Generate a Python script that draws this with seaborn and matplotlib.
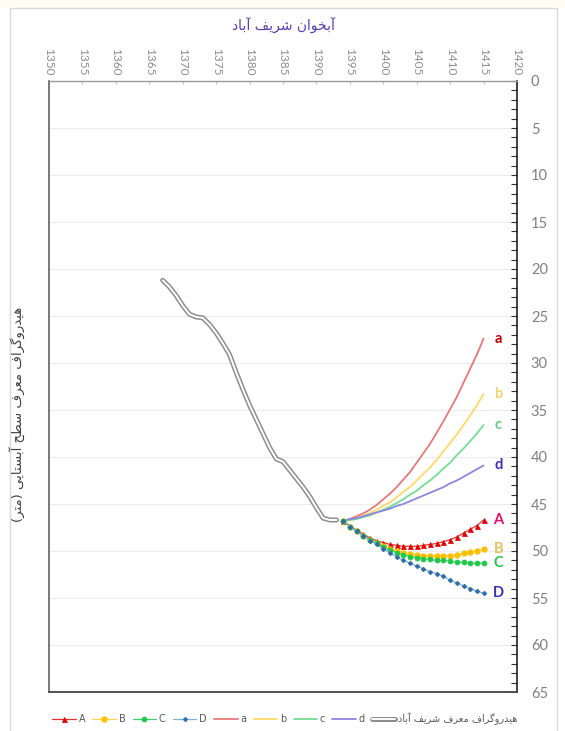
import numpy as np
import pandas as pd
import matplotlib
matplotlib.use("Agg")
import matplotlib.pyplot as plt
import matplotlib.patheffects as pe
from matplotlib.ticker import MultipleLocator
from matplotlib.patches import Rectangle
import seaborn as sns

# ==========================
# Data
# ==========================
hydro_years = [1367, 1368, 1369, 1370, 1371, 1372, 1373, 1374, 1375, 1376,
               1377, 1378, 1379, 1380, 1381, 1382, 1383, 1384, 1385, 1386,
               1387, 1388, 1389, 1390, 1391, 1392, 1393]
hydro_depth = [21.2, 21.9, 22.8, 23.9, 24.8, 25.1, 25.2, 25.9, 26.8, 27.9,
               29.1, 31.0, 32.8, 34.5, 36.0, 37.5, 39.0, 40.2, 40.5, 41.4,
               42.3, 43.2, 44.2, 45.4, 46.5, 46.7, 46.7]

proj_years = list(range(1394, 1416))

A_vals = [46.8, 47.3, 47.8, 48.2, 48.6, 48.9, 49.1, 49.3, 49.4, 49.5, 49.5,
          49.5, 49.4, 49.3, 49.2, 49.0, 48.8, 48.5, 48.1, 47.7, 47.3, 46.7]
B_vals = [46.8, 47.4, 47.9, 48.4, 48.8, 49.2, 49.5, 49.8, 50.0, 50.2, 50.3,
          50.4, 50.5, 50.55, 50.55, 50.5, 50.5, 50.4, 50.25, 50.1, 50.0, 49.8]
C_vals = [46.8, 47.4, 47.9, 48.4, 48.8, 49.2, 49.6, 49.9, 50.2, 50.4, 50.6,
          50.7, 50.8, 50.9, 51.0, 51.0, 51.1, 51.2, 51.2, 51.3, 51.3, 51.3]
D_vals = [46.8, 47.4, 47.9, 48.4, 48.9, 49.3, 49.8, 50.2, 50.6, 51.0, 51.3,
          51.6, 51.9, 52.2, 52.4, 52.7, 53.1, 53.4, 53.7, 54.0, 54.25, 54.5]

a_vals = [46.8, 46.6, 46.3, 46.0, 45.6, 45.1, 44.5, 43.9, 43.2, 42.4, 41.6,
          40.6, 39.6, 38.6, 37.4, 36.2, 34.9, 33.6, 32.1, 30.6, 29.1, 27.4]
b_vals = [46.8, 46.7, 46.5, 46.2, 46.0, 45.6, 45.2, 44.8, 44.3, 43.7, 43.2,
          42.5, 41.8, 41.1, 40.3, 39.4, 38.5, 37.6, 36.6, 35.6, 34.5, 33.3]
c_vals = [46.8, 46.7, 46.6, 46.4, 46.2, 45.9, 45.6, 45.3, 44.9, 44.5, 44.0,
          43.6, 43.0, 42.5, 41.9, 41.2, 40.6, 39.8, 39.1, 38.3, 37.5, 36.6]
d_vals = [46.8, 46.6, 46.5, 46.3, 46.1, 45.9, 45.7, 45.5, 45.2, 45.0, 44.7,
          44.4, 44.1, 43.8, 43.5, 43.2, 42.8, 42.5, 42.1, 41.7, 41.3, 40.9]

x_ticks = list(range(1350, 1421, 5))
y_ticks = list(range(0, 66, 5))

title_txt = "آبخوان شریف آباد"
ylabel_txt = "هیدروگراف معرف سطح آبستایی (متر)"
hydro_label = "هیدروگراف معرف شریف آباد"

# ==========================
# Persian shaping (matplotlib has no text shaping)
# ==========================
FORMS = {
    "\u0622": ("\uFE81", "\uFE82", None, None),
    "\u0627": ("\uFE8D", "\uFE8E", None, None),
    "\u0628": ("\uFE8F", "\uFE90", "\uFE91", "\uFE92"),
    "\u062A": ("\uFE95", "\uFE96", "\uFE97", "\uFE98"),
    "\u062D": ("\uFEA1", "\uFEA2", "\uFEA3", "\uFEA4"),
    "\u062E": ("\uFEA5", "\uFEA6", "\uFEA7", "\uFEA8"),
    "\u062F": ("\uFEA9", "\uFEAA", None, None),
    "\u0631": ("\uFEAD", "\uFEAE", None, None),
    "\u0633": ("\uFEB1", "\uFEB2", "\uFEB3", "\uFEB4"),
    "\u0634": ("\uFEB5", "\uFEB6", "\uFEB7", "\uFEB8"),
    "\u0637": ("\uFEC1", "\uFEC2", "\uFEC3", "\uFEC4"),
    "\u0639": ("\uFEC9", "\uFECA", "\uFECB", "\uFECC"),
    "\u0641": ("\uFED1", "\uFED2", "\uFED3", "\uFED4"),
    "\u0645": ("\uFEE1", "\uFEE2", "\uFEE3", "\uFEE4"),
    "\u0646": ("\uFEE5", "\uFEE6", "\uFEE7", "\uFEE8"),
    "\u0647": ("\uFEE9", "\uFEEA", "\uFEEB", "\uFEEC"),
    "\u0648": ("\uFEED", "\uFEEE", None, None),
    "\u06CC": ("\uFBFC", "\uFBFD", "\uFBFE", "\uFBFF"),
    "\u06AF": ("\uFB92", "\uFB93", "\uFB94", "\uFB95"),
}


def fa(s):
    out = []
    for i, ch in enumerate(s):
        if ch not in FORMS:
            out.append(ch)
            continue
        f = FORMS[ch]
        prev = s[i - 1] if i > 0 else ""
        nxt = s[i + 1] if i + 1 < len(s) else ""
        jp = prev in FORMS and FORMS[prev][2] is not None
        jn = nxt in FORMS and f[2] is not None
        if jp and jn:
            out.append(f[3])
        elif jp:
            out.append(f[1])
        elif jn:
            out.append(f[2])
        else:
            out.append(f[0])
    res = "".join(reversed(out))
    return res.translate(str.maketrans("()", ")("))


# ==========================
# Style
# ==========================
sns.set_style("white")
plt.rcParams["font.family"] = ["Lato", "DejaVu Sans"]
FA_FONT = ["DejaVu Sans"]

W, H = 565, 731
fig = plt.figure(figsize=(W / 100, H / 100), dpi=100)
ax = fig.add_axes([49 / W, 1 - 692 / H, (517 - 49) / W, (692 - 81) / H])

# outer frame like the sheet
fig.patches.append(Rectangle((0, 1 - 8 / H), 1, 8 / H, transform=fig.transFigure,
                             facecolor="#fffdf2", edgecolor="none", zorder=-5))
fig.patches.append(Rectangle((10 / W, -0.01), (557 - 10) / W, 1 - 8 / H + 0.01,
                             transform=fig.transFigure, facecolor="white",
                             edgecolor="#d9d9d9", lw=1.0, zorder=-4))

# ==========================
# Lines
# ==========================
proj = pd.DataFrame({"year": proj_years, "A": A_vals, "B": B_vals, "C": C_vals,
                     "D": D_vals, "a": a_vals, "b": b_vals, "c": c_vals, "d": d_vals})

marker_styles = {
    "A": dict(color="#e83030", marker="^", markersize=3.6, markerfacecolor="#e00000",
              markeredgecolor="#e00000"),
    "B": dict(color="#ffd34d", marker="o", markersize=4.0, markerfacecolor="#ffc000",
              markeredgecolor="#ffc000"),
    "C": dict(color="#40d070", marker="o", markersize=3.6, markerfacecolor="#20c84a",
              markeredgecolor="#20c84a"),
    "D": dict(color="#7fb0dc", marker="D", markersize=2.4, markerfacecolor="#2d6ba8",
              markeredgecolor="#2d6ba8"),
}
line_colors = {"a": "#e87878", "b": "#ffd966", "c": "#74dc94", "d": "#8c86e0"}

for name in ["a", "b", "c", "d"]:
    sns.lineplot(data=proj, x="year", y=name, ax=ax, color=line_colors[name],
                 lw=1.3, label=name, zorder=3)

for name in ["A", "B", "C", "D"]:
    sns.lineplot(data=proj, x="year", y=name, ax=ax, lw=0.9, label=name,
                 markeredgewidth=0.5, zorder=4, **marker_styles[name])

sns.lineplot(x=hydro_years, y=hydro_depth, ax=ax, color="white", lw=1.4,
             label=fa(hydro_label), zorder=5,
             path_effects=[pe.Stroke(linewidth=3.6, foreground="#8e8e8e"), pe.Normal()])

# end labels
end_label_colors = {"a": "#c00000", "b": "#f5d470", "c": "#66cc88", "d": "#3a30b8",
                    "A": "#e0106a", "B": "#e8c060", "C": "#22c44a", "D": "#3a30b8"}
for name in ["a", "b", "c", "d", "A", "B", "C", "D"]:
    ax.text(1417.2, proj[name].iloc[-1], name, color=end_label_colors[name],
            fontsize=10.5, fontweight="bold", ha="center", va="center")

# ==========================
# Axes
# ==========================
ax.set_xlim(1350, 1420)
ax.set_ylim(65, 0)
ax.set_xticks(x_ticks)
ax.set_yticks(y_ticks)
ax.yaxis.set_minor_locator(MultipleLocator(1))
ax.xaxis.tick_top()
ax.yaxis.tick_right()
ax.tick_params(axis="x", which="major", labelrotation=-90, labelsize=8.5,
               labelcolor="#8c8c8c", length=2, color="#c0c0c0", direction="in", pad=4)
ax.tick_params(axis="y", which="both", labelsize=10.5, labelcolor="#808080",
               direction="in", color="#333333", length=4, width=0.8, pad=10)
ax.set_xlabel("")
ax.set_ylabel("")
ax.grid(axis="y", which="major", color="#ececec", lw=0.8)
ax.set_axisbelow(True)

for side, col, lw in [("left", "#6e6e6e", 1.3), ("bottom", "#505050", 1.4),
                      ("right", "#222222", 1.2), ("top", "#9a9a9a", 1.0)]:
    ax.spines[side].set_color(col)
    ax.spines[side].set_linewidth(lw)

fig.text(284 / W, 1 - 26 / H, fa(title_txt), ha="center", va="center",
         fontsize=10, color="#5040b0", family=FA_FONT)
fig.text(17 / W, 1 - 414 / H, fa(ylabel_txt), ha="center", va="center",
         rotation=90, fontsize=9.5, color="#404040", family=FA_FONT)

# ==========================
# Legend
# ==========================
handles, labels = ax.get_legend_handles_labels()
order = ["A", "B", "C", "D", "a", "b", "c", "d", fa(hydro_label)]
hmap = dict(zip(labels, handles))
ax.get_legend().remove()
leg = fig.legend([hmap[k] for k in order], order, loc="center", ncol=9,
                 bbox_to_anchor=(285 / W, 1 - 719 / H), frameon=False,
                 fontsize=7, handlelength=2.4, handletextpad=0.3,
                 columnspacing=0.75, labelcolor="#595959")
for t in leg.get_texts():
    t.set_family(FA_FONT)

fig.savefig("out.png", dpi=100)
